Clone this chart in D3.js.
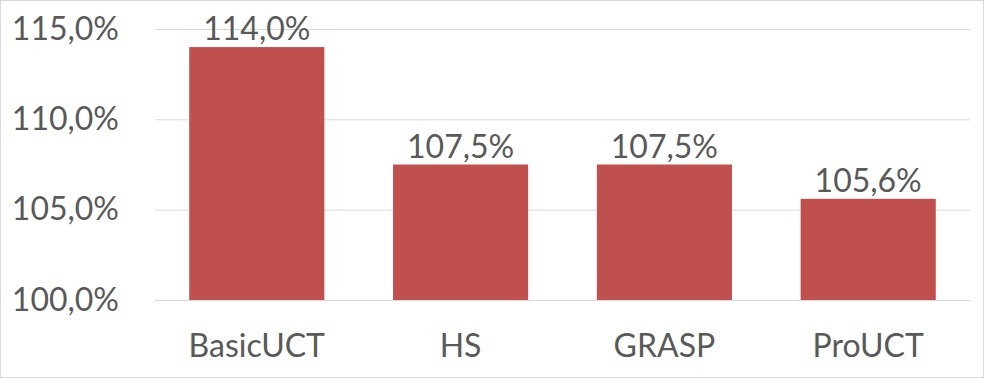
<!DOCTYPE html>
<html lang="en">
<head>
  <meta charset="UTF-8">
  <title>Bar chart</title>
  <script src='https://d3js.org/d3.v7.min.js'></script>
  <style>
    body { margin: 0; background: #fff; }
    svg { display: block; }
  </style>
</head>
<body>
<script>
  // data
  const categories = ['BasicUCT', 'HS', 'GRASP', 'ProUCT'];
  const values = [114.0, 107.5, 107.5, 105.6];
  const yTicks = [100, 105, 110, 115];

  const width = 984;
  const height = 378;
  const plotLeft = 155, plotRight = 970, plotTop = 29, plotBottom = 300;
  const textColor = '#595959';
  const font = 'Lato, "Open Sans", sans-serif';

  const fmt = v => v.toFixed(1).replace('.', ',') + '%';

  const svg = d3.select('body')
    .append('svg')
    .attr('width', width)
    .attr('height', height);

  // outer border
  svg.append('rect')
    .attr('x', 0.5).attr('y', 0.5)
    .attr('width', width - 1).attr('height', height - 1)
    .attr('fill', 'none')
    .attr('stroke', '#d9d9d9');

  const x = d3.scaleBand()
    .domain(categories)
    .range([plotLeft, plotRight])
    .paddingInner(0.337)
    .paddingOuter(0.168);

  const y = d3.scaleLinear()
    .domain([100, 115])
    .range([plotBottom, plotTop]);

  // grid + y labels
  const yAxis = svg.append('g')
    .attr('transform', 'translate(' + plotLeft + ',0)')
    .call(d3.axisLeft(y).tickValues(yTicks).tickSize(-(plotRight - plotLeft)).tickPadding(36).tickFormat(fmt));
  yAxis.select('.domain').remove();
  yAxis.selectAll('.tick line').attr('stroke', '#d9d9d9').attr('stroke-width', 1);
  yAxis.selectAll('.tick text')
    .attr('fill', textColor)
    .style('font-family', font)
    .style('font-size', '32px');

  // bars
  svg.selectAll('.bar')
    .data(values)
    .join('rect')
    .attr('class', 'bar')
    .attr('x', (d, i) => x(categories[i]))
    .attr('width', x.bandwidth())
    .attr('y', d => y(d))
    .attr('height', d => y(100) - y(d))
    .attr('fill', '#c0504d');

  // value labels
  svg.selectAll('.val')
    .data(values)
    .join('text')
    .attr('class', 'val')
    .attr('x', (d, i) => x(categories[i]) + x.bandwidth() / 2)
    .attr('y', d => y(d) - 7)
    .attr('text-anchor', 'middle')
    .attr('fill', textColor)
    .style('font-family', font)
    .style('font-size', '32px')
    .text(fmt);

  // category labels
  svg.selectAll('.cat')
    .data(categories)
    .join('text')
    .attr('class', 'cat')
    .attr('x', d => x(d) + x.bandwidth() / 2)
    .attr('y', 357)
    .attr('text-anchor', 'middle')
    .attr('fill', textColor)
    .style('font-family', font)
    .style('font-size', '32px')
    .text(d => d);
</script>
</body>
</html>
